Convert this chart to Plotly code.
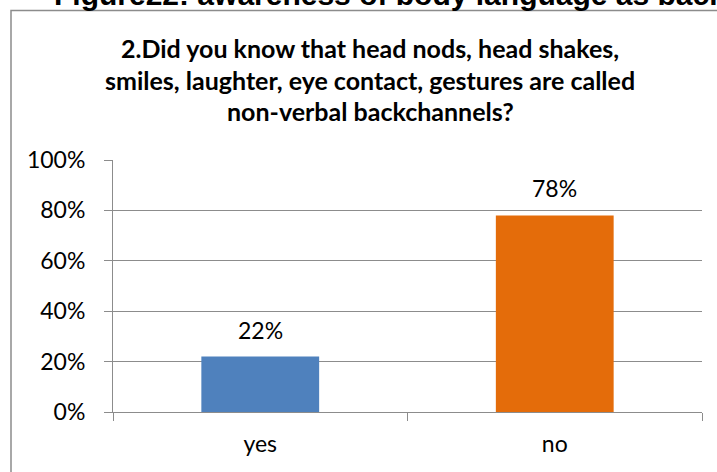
import plotly.graph_objects as go

categories = ["yes", "no"]
values = [0.22, 0.78]
bar_colors = ["#4F81BD", "#E46C0A"]
y_ticks = [0, 0.2, 0.4, 0.6, 0.8, 1.0]
title_lines = [
    "2.Did you know that head nods, head shakes,",
    "smiles, laughter, eye contact, gestures are called",
    "non-verbal backchannels?",
]
caption = "Figure22: awareness of body language as backchannels"

W, H = 717, 472
L, R, T, B = 113, 15, 160, 60
pw = W - L - R
ph = H - T - B

def px(x):
    return (x - L) / pw

def py(y):
    return (H - B - y) / ph

fig = go.Figure()
fig.add_trace(go.Bar(
    x=categories, y=values, marker=dict(color=bar_colors, line=dict(width=0)),
    width=0.4, hoverinfo="skip",
))

grey = "#8c8c8c"
font_main = "Lato, Carlito, Calibri, sans-serif"

for c, v in zip(categories, values):
    fig.add_annotation(x=c, y=v, xref="x", yref="y", text=f"{round(v*100)}%",
                       showarrow=False, yanchor="middle", yshift=27,
                       font=dict(family=font_main, size=23, color="#000"))

line_y = [48, 79.5, 111]
for t, yy in zip(title_lines, line_y):
    fig.add_annotation(x=px(370), y=py(yy), xref="paper", yref="paper", text=f"<b>{t}</b>",
                       showarrow=False, xanchor="center", yanchor="middle",
                       font=dict(family=font_main, size=25, color="#000"))

fig.add_annotation(x=px(52), y=py(-5.5), xref="paper", yref="paper", text=f"<b>{caption}</b>",
                   showarrow=False, xanchor="left", yanchor="middle",
                   font=dict(family="Liberation Sans, Arial, sans-serif", size=30, color="#000"))

fig.add_shape(type="rect", xref="paper", yref="paper",
              x0=px(11), x1=px(730), y0=py(490), y1=py(10.5),
              line=dict(color=grey, width=1.5), fillcolor="rgba(0,0,0,0)", layer="below")

fig.update_layout(
    width=W, height=H,
    margin=dict(l=L, r=R, t=T, b=B),
    paper_bgcolor="white", plot_bgcolor="white",
    showlegend=False, bargap=0.6,
    xaxis=dict(showline=True, linecolor=grey, linewidth=1, ticks="outside", tickson="boundaries",
               ticklen=8, tickcolor=grey, tickwidth=1, showgrid=False, ticklabelstandoff=11,
               tickfont=dict(family=font_main, size=23, color="#000")),
    yaxis=dict(range=[0, 1], tickvals=y_ticks, tickformat=".0%", showline=True, linecolor=grey,
               linewidth=1, ticks="outside", ticklen=8, tickcolor=grey, tickwidth=1,
               showgrid=True, gridcolor=grey, gridwidth=1, zeroline=False, ticklabelstandoff=14,
               tickfont=dict(family=font_main, size=23, color="#000")),
)

fig.write_html("out.html", config={"displayModeBar": False},
               post_script="document.body.style.margin='0px';")
